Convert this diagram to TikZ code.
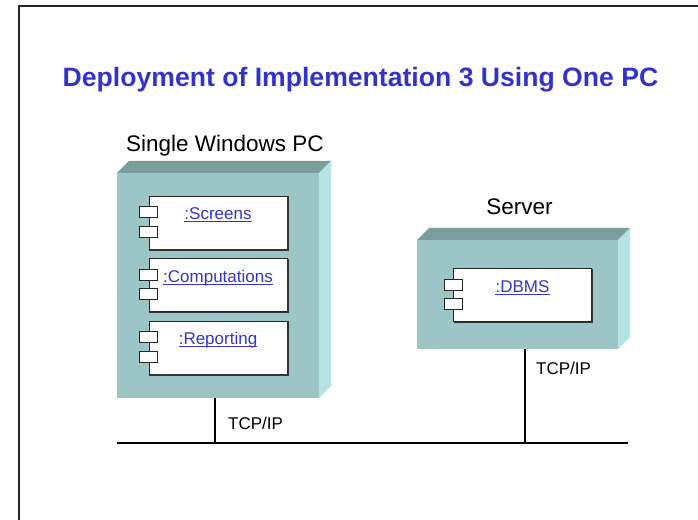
\documentclass[tikz,border=0pt]{standalone}
\usepackage{fontspec}
\setmainfont{Liberation Sans}
\usetikzlibrary{calc}

\definecolor{facefront}{HTML}{9CC5C5}
\definecolor{facetop}{HTML}{7A9E9A}
\definecolor{faceside}{HTML}{B5E2E2}
\definecolor{titleblue}{HTML}{3333CC}
\definecolor{linkblue}{HTML}{3535CC}

\tikzset{
  front/.style={fill=facefront, draw=none, inner sep=0, outer sep=0},
  compbox/.style={draw=black!85, line width=0.9bp, fill=white, inner sep=0,
                  minimum width=138bp, minimum height=53bp},
  port/.style={draw=black!85, line width=0.8bp, fill=white, inner sep=0,
               minimum width=18bp, minimum height=11bp},
  link/.style={text=linkblue, inner sep=0, anchor=base,
               font=\fontsize{17bp}{20bp}\selectfont},
  plain/.style={inner sep=0, font=\fontsize{17bp}{20bp}\selectfont},
  nodename/.style={inner sep=0, anchor=base, font=\fontsize{22.5bp}{26bp}\selectfont},
  wire/.style={line width=2bp, black},
}

% draws a top face and right face of depth 12 for a node front
\newcommand{\boxdepth}[1]{%
  \fill[facetop] (#1.north west) -- ++(12,-12) -- ($(#1.north east)+(12,-12)$) -- (#1.north east) -- cycle;
  \fill[faceside] (#1.north east) -- ++(12,-12) -- ($(#1.south east)+(12,-12)$) -- (#1.south east) -- cycle;
}

% a component box with two ports and an underlined name
\newcommand{\component}[3]{% name, center, label
  \node[compbox] (#1) at #2 {};
  \draw[black!80, line width=1.1bp] ($(#1.north east)+(0.5,0.5)$) -- ($(#1.south east)+(0.5,0.5)$) -- ($(#1.south west)+(0.5,0.5)$);
  \node[port] (#1p1) at ($(#1.north west)+(0,16.5)$) {};
  \node[port] (#1p2) at ($(#1.north west)+(0,36)$) {};
  \node[link] (#1lbl) at ($(#1.north)+(0,24)$) {#3};
  \draw[linkblue, line width=1bp] ($(#1lbl.base west)+(0,2.2)$) -- ($(#1lbl.base east)+(0,2.2)$);
}

\begin{document}
\begin{tikzpicture}[x=1bp,y=-1bp]
\useasboundingbox (0,0) rectangle (698,520);

% slide frame
\draw[line width=1.6bp, black!85] (19,522) -- (19,6) -- (700,6);

% title
\node[inner sep=0, anchor=base, text=titleblue,
      font=\fontsize{26.6bp}{30bp}\selectfont\bfseries] (title) at (360.5,87)
  {Deployment of Implementation 3 Using One PC};

% PC node
\node[front, minimum width=202bp, minimum height=225bp] (pc) at (218,285.5) {};
\boxdepth{pc}
\node[nodename] (pcname) at (225,152) {Single Windows PC};

\component{screens}{(218,222.5)}{:Screens}
\component{comp}{(218,285)}{:Computations}
\component{report}{(218,347.5)}{:Reporting}

% Server node
\node[front, minimum width=201bp, minimum height=109bp] (srv) at (517.5,294.5) {};
\boxdepth{srv}
\node[nodename] (srvname) at (519.5,215) {Server};

\component{dbms}{(522.5,295)}{:DBMS}

% network
\coordinate (busL) at (117,443);
\coordinate (busR) at (628,443);
\coordinate (pctap) at (215,443);
\coordinate (srvtap) at (525,443);
\draw[wire] (busL) -- (busR);
\draw[wire] (pctap |- pc.south) -- (pctap);
\draw[wire] (srvtap |- srv.south) -- (srvtap);

\node[plain, anchor=base west] (tcp1) at (228,429) {TCP/IP};
\node[plain, anchor=base west] (tcp2) at (536,374) {TCP/IP};
\end{tikzpicture}
\end{document}
